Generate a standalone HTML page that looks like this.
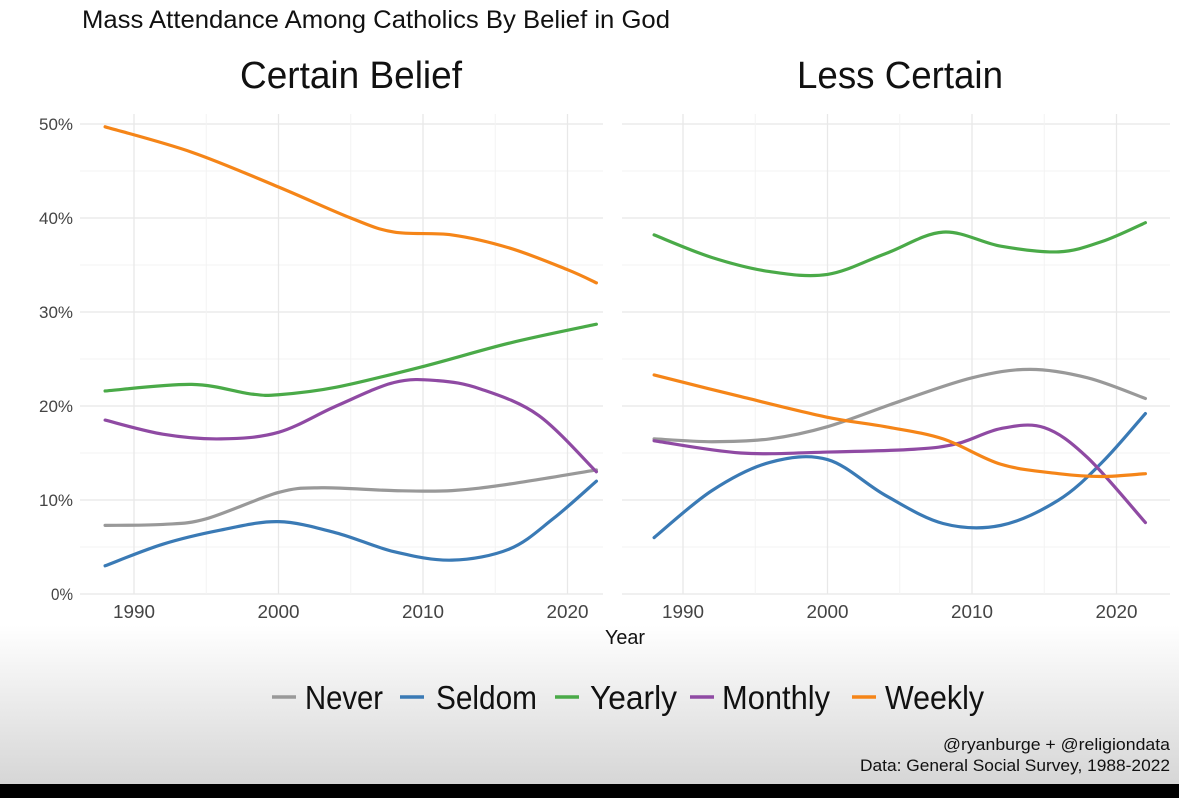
<!DOCTYPE html>
<html><head><meta charset="utf-8"><style>
body{margin:0;width:1179px;height:798px;overflow:hidden;background:#fff;font-family:"Liberation Sans",sans-serif;}
#bg{position:absolute;left:0;top:0;width:1179px;height:798px;background:linear-gradient(#fff 0,#fff 625px,#d6d6d6 784px,#000 784px,#000 798px);}
svg{position:absolute;left:0;top:0}
</style></head><body>
<div id="bg"></div>
<svg id="chart" width="1179" height="798" font-family="Liberation Sans, sans-serif"></svg>
<script>
const years=[1990,2000,2010,2020];
const yTicks=[0,10,20,30,40,50];
const seriesNames=["Never","Seldom","Yearly","Monthly","Weekly"];
const colors={Never:"#999999",Seldom:"#3a7ab5",Yearly:"#4aaa48",Monthly:"#8f4aa3",Weekly:"#f58518"};
// left panel: Certain Belief
const L_Weekly_x=[1988,1994,2000,2005,2008,2012,2016,2020,2022];
const L_Weekly_y=[49.7,47,43.3,40,38.5,38.2,36.8,34.5,33.1];
const L_Yearly_x=[1988,1994,1998,2000,2004,2010,2016,2022];
const L_Yearly_y=[21.6,22.3,21.3,21.2,22,24.2,26.7,28.7];
const L_Monthly_x=[1988,1992,1996,2000,2004,2008,2011,2014,2018,2022];
const L_Monthly_y=[18.5,17,16.5,17.2,20,22.5,22.7,21.8,19,13];
const L_Never_x=[1988,1992,1995,2000,2003,2008,2012,2016,2022];
const L_Never_y=[7.3,7.4,8,10.8,11.3,11,11,11.7,13.2];
const L_Seldom_x=[1988,1992,1996,2000,2004,2008,2012,2016,2019,2022];
const L_Seldom_y=[3,5.3,6.8,7.7,6.5,4.5,3.6,4.8,8,12];
// right panel: Less Certain
const R_Yearly_x=[1988,1992,1996,2000,2004,2008,2012,2016,2019,2022];
const R_Yearly_y=[38.2,35.8,34.3,34,36.2,38.5,37,36.4,37.5,39.5];
const R_Weekly_x=[1988,1994,2000,2004,2008,2012,2016,2019,2022];
const R_Weekly_y=[23.3,21,18.8,17.8,16.5,13.8,12.8,12.5,12.8];
const R_Never_x=[1988,1992,1996,2000,2005,2010,2014,2018,2022];
const R_Never_y=[16.5,16.2,16.5,17.8,20.5,23,23.9,23,20.8];
const R_Monthly_x=[1988,1994,2000,2006,2009,2012,2015,2018,2022];
const R_Monthly_y=[16.3,15,15.1,15.4,16,17.6,17.7,14.5,7.6];
const R_Seldom_x=[1988,1992,1996,2000,2004,2008,2012,2016,2019,2022];
const R_Seldom_y=[6,11,14,14.3,10.5,7.5,7.3,10,14,19.2];

const svg=document.getElementById('chart');
const NS="http://www.w3.org/2000/svg";
function mk(t,a,txt){const e=document.createElementNS(NS,t);for(const k in a)e.setAttribute(k,a[k]);if(txt!=null)e.textContent=txt;svg.appendChild(e);return e;}
function tx(a,txt,len){const e=mk('text',a,txt);if(len){e.setAttribute('textLength',len);e.setAttribute('lengthAdjust','spacingAndGlyphs');}return e;}
const yScale=v=>594-v*9.4;
const panels=[{x0:80,x1:603,base:134,title:"Certain Belief",tx:351,tl:222,d:{Never:[L_Never_x,L_Never_y],Seldom:[L_Seldom_x,L_Seldom_y],Yearly:[L_Yearly_x,L_Yearly_y],Monthly:[L_Monthly_x,L_Monthly_y],Weekly:[L_Weekly_x,L_Weekly_y]}},
{x0:622,x1:1170,base:683,title:"Less Certain",tx:900,tl:206,d:{Never:[R_Never_x,R_Never_y],Seldom:[R_Seldom_x,R_Seldom_y],Yearly:[R_Yearly_x,R_Yearly_y],Monthly:[R_Monthly_x,R_Monthly_y],Weekly:[R_Weekly_x,R_Weekly_y]}}];
function path(pts){let d="M"+pts[0][0]+","+pts[0][1];for(let i=0;i<pts.length-1;i++){const p0=pts[i-1]||pts[i],p1=pts[i],p2=pts[i+1],p3=pts[i+2]||p2;
d+=" C"+(p1[0]+(p2[0]-p0[0])/6)+","+(p1[1]+(p2[1]-p0[1])/6)+" "+(p2[0]-(p3[0]-p1[0])/6)+","+(p2[1]-(p3[1]-p1[1])/6)+" "+p2[0]+","+p2[1];}return d;}
panels.forEach((p,pi)=>{
 const xs=y=>p.base+(y-1990)*14.45;
 for(let v=0;v<=50;v+=5){const g=mk('line',{x1:p.x0,x2:p.x1,y1:yScale(v),y2:yScale(v),stroke:v%10?"#f3f3f3":"#e8e8e8","stroke-width":v%10?1:1.3});}
 for(let yr=1985;yr<=2025;yr+=5){const X=xs(yr);if(X<p.x0||X>p.x1)continue;const g=mk('line',{x1:X,x2:X,y1:yScale(0),y2:yScale(50)-10,stroke:yr%10?"#f3f3f3":"#e8e8e8","stroke-width":yr%10?1:1.3});}
 years.forEach(yr=>{const t=tx({x:xs(yr)-21,y:618,"font-size":18,fill:"#444"},yr,42);});
 const tt=tx({x:p.tx-p.tl/2,y:88,"font-size":38,fill:"#111"},p.title,p.tl);
 seriesNames.forEach(s=>{const [xa,ya]=p.d[s];const pts=xa.map((x,i)=>[xs(x),yScale(ya[i])]);
  const l=mk('path',{d:path(pts),fill:"none",stroke:colors[s],"stroke-width":3.2,"stroke-linecap":"round"});
  });
});
yTicks.forEach(v=>{const w=v?34:22;const t=tx({x:73-w,y:yScale(v)+6,"font-size":17,fill:"#444"},v+"%",w);});
let e;
e=tx({x:82,y:28,"font-size":25,fill:"#111"},"Mass Attendance Among Catholics By Belief in God",588);
e=tx({x:605,y:644,"font-size":20,fill:"#111"},"Year",40);
const legX=[272,400,555,690,852];
const legT=[305,436,590,722,885];
const legW=[78,101,87,108,99];
seriesNames.forEach((s,i)=>{
 const ln=mk('line',{x1:legX[i],x2:legX[i]+24,y1:697,y2:697,stroke:colors[s],"stroke-width":3.5});
 const t=tx({x:legT[i],y:709,"font-size":33,fill:"#111"},s,legW[i]);});
e=tx({x:943,y:750,"font-size":17,fill:"#111"},"@ryanburge + @religiondata",227);
e=tx({x:860,y:771,"font-size":17,fill:"#111"},"Data: General Social Survey, 1988-2022",310);
</script>
</body></html>
